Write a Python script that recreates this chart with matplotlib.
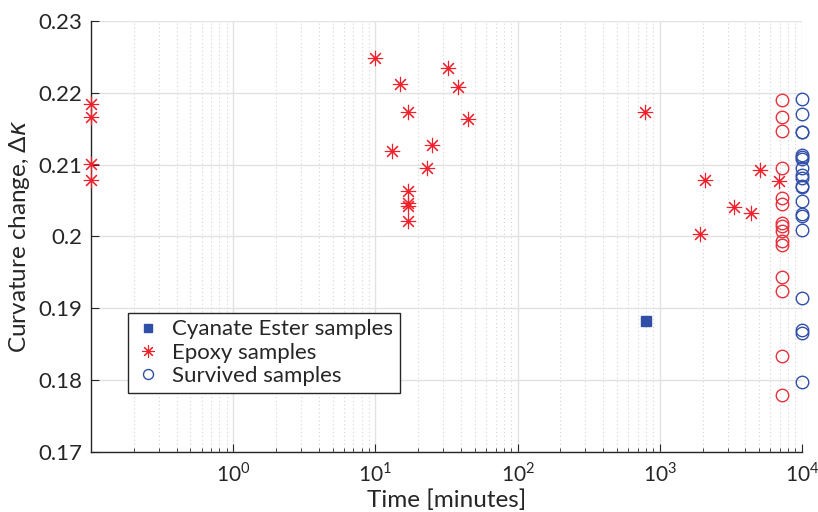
import math
import matplotlib
matplotlib.use("Agg")
import matplotlib.pyplot as plt
from matplotlib.ticker import FixedLocator, FuncFormatter, LogLocator, NullFormatter

plt.rcParams['font.family'] = ['Lato', 'DejaVu Sans']
plt.rcParams['mathtext.fontset'] = 'custom'
plt.rcParams['mathtext.rm'] = 'Lato'
plt.rcParams['mathtext.it'] = 'DejaVu Sans:italic'

# ---- data ----
epoxy_x = [0.1, 0.1, 0.1, 0.1, 10, 14.9, 16.9, 13.0, 16.9, 16.9, 16.9, 16.9,
           22.9, 24.9, 32.4, 37.9, 44.6, 784, 1914, 2075, 3320, 4375, 5060, 6890]
epoxy_y = [0.2184, 0.2166, 0.2101, 0.2079, 0.2249, 0.2212, 0.2174, 0.2119,
           0.2064, 0.2047, 0.2043, 0.2022, 0.2096, 0.2127, 0.2235, 0.2208,
           0.2164, 0.2173, 0.2004, 0.2078, 0.2041, 0.2033, 0.2092, 0.2077]

survived_epoxy_x = 7200
survived_epoxy_y = [0.2190, 0.2166, 0.2147, 0.2096, 0.2053, 0.2045, 0.2019,
                    0.2014, 0.2008, 0.1994, 0.1988, 0.1943, 0.1924, 0.1833, 0.1779]

survived_ce_x = 10000
survived_ce_y = [0.2192, 0.2170, 0.2146, 0.2145, 0.2113, 0.2110, 0.2108, 0.2096,
                 0.2086, 0.2081, 0.2070, 0.2069, 0.2049, 0.2031, 0.2028, 0.2009,
                 0.1915, 0.1870, 0.1866, 0.1797]

ce_x = [806]
ce_y = [0.1883]

x_ticks = [1, 10, 100, 1000, 10000]
y_ticks = [0.17, 0.18, 0.19, 0.20, 0.21, 0.22, 0.23]
y_ticklabels = ['0.17', '0.18', '0.19', '0.2', '0.21', '0.22', '0.23']

red = '#f0202a'
red_c = '#e8303a'
blue = '#3050a8'
axcol = '#262626'

fig = plt.figure(figsize=(8.18, 5.12), dpi=100)
ax = fig.add_axes([0.1112, 0.1172, 0.8692, 0.8418])

ax.plot(ce_x, ce_y, linestyle='none', marker='s', markersize=7,
        color=blue, label='Cyanate Ester samples', clip_on=False, zorder=3)
ax.plot(epoxy_x, epoxy_y, linestyle='none', marker=(8, 2, 0), markersize=11,
        markeredgewidth=0.8, color=red, label='Epoxy samples', clip_on=False, zorder=3)
ax.plot([survived_epoxy_x] * len(survived_epoxy_y), survived_epoxy_y, linestyle='none',
        marker='o', markersize=9, markerfacecolor='none', markeredgecolor=red_c,
        markeredgewidth=1.0, clip_on=False, zorder=3)
ax.plot([survived_ce_x] * len(survived_ce_y), survived_ce_y, linestyle='none',
        marker='o', markersize=9, markerfacecolor='none', markeredgecolor=blue,
        markeredgewidth=1.0, label='Survived samples', clip_on=False, zorder=3)

ax.set_xscale('log')
ax.set_xlim(0.1, 10000)
ax.set_ylim(0.17, 0.23)

ax.xaxis.set_major_locator(FixedLocator(x_ticks))
ax.xaxis.set_major_formatter(FuncFormatter(lambda v, p: r'$10^{%d}$' % round(math.log10(v))))
ax.xaxis.set_minor_locator(LogLocator(base=10, subs=range(2, 10), numticks=20))
ax.xaxis.set_minor_formatter(NullFormatter())
ax.set_yticks(y_ticks)
ax.set_yticklabels(y_ticklabels)

ax.grid(True, which='major', color='#e2e2e2', linewidth=1.0, linestyle='-')
ax.grid(True, which='minor', axis='x', color='#d4d4d4', linewidth=0.8, linestyle=(0, (1, 2.5)))
ax.set_axisbelow(True)

for s in ['top', 'right']:
    ax.spines[s].set_visible(False)
for s in ['left', 'bottom']:
    ax.spines[s].set_color(axcol)
    ax.spines[s].set_linewidth(1.0)

ax.tick_params(axis='both', which='both', direction='in', colors=axcol)
ax.tick_params(axis='y', labelsize=16)
ax.tick_params(axis='x', labelsize=15)
ax.tick_params(axis='both', which='major', length=6)
ax.tick_params(axis='x', which='minor', length=3)
ax.tick_params(axis='x', which='major', pad=7)
ax.tick_params(axis='y', which='major', pad=6)

ax.set_xlabel('Time [minutes]', fontsize=17.5, color=axcol, labelpad=3)
ax.set_ylabel(r'Curvature change, $\Delta\kappa$', fontsize=17.5, color=axcol, labelpad=5)

leg = ax.legend(loc='lower left', bbox_to_anchor=(0.052, 0.1376), borderaxespad=0,
                fontsize=16, frameon=True, fancybox=False, edgecolor=axcol, framealpha=1,
                handlelength=1.2, handletextpad=0.5, borderpad=0.3, labelspacing=0.15,
                markerscale=0.8)
leg.get_frame().set_linewidth(1.0)
for t in leg.get_texts():
    t.set_color(axcol)

fig.savefig('out.png', dpi=100)
